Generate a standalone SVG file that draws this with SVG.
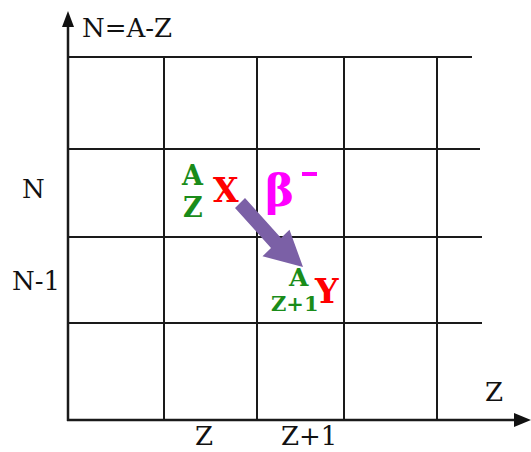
<svg xmlns="http://www.w3.org/2000/svg" width="531" height="452" viewBox="0 0 531 452">
<style>
.grid{stroke:#1a1a1a;stroke-width:2;fill:none}
.axis{stroke:#1a1a1a;stroke-width:2.5;fill:none}
.lbl{font-family:"DejaVu Serif","Liberation Serif",serif;font-size:26px;fill:#111}
.nuc{font-family:"DejaVu Serif","Liberation Serif",serif;font-weight:bold;fill:#1a8c1a}
.el{font-family:"DejaVu Serif","Liberation Serif",serif;font-weight:bold;fill:#ff0000}
</style>
<rect width="531" height="452" fill="#fff"/>
<g id="grid">
<line class="grid" x1="68" y1="57" x2="472" y2="57"/>
<line class="grid" x1="68" y1="149" x2="480" y2="149"/>
<line class="grid" x1="68" y1="237" x2="482" y2="237"/>
<line class="grid" x1="68" y1="323" x2="482" y2="323"/>
<line class="grid" x1="164" y1="57" x2="164" y2="420"/>
<line class="grid" x1="257" y1="57" x2="257" y2="420"/>
<line class="grid" x1="344" y1="57" x2="344" y2="420"/>
<line class="grid" x1="437" y1="57" x2="437" y2="420"/>
</g>
<g id="axes">
<line class="axis" x1="68" y1="421" x2="68" y2="24"/>
<polygon points="68,11 62,27 74,27" fill="#111"/>
<line class="axis" x1="67" y1="420" x2="518" y2="420"/>
<polygon points="531,420 514,413 514,427" fill="#111"/>
</g>
<g id="labels">
<text class="lbl" x="82" y="37">N=A-Z</text>
<text class="lbl" x="22" y="198">N</text>
<text class="lbl" x="12" y="290">N-1</text>
<text class="lbl" x="195" y="445">Z</text>
<text class="lbl" x="281" y="445">Z+1</text>
<text class="lbl" x="485" y="401">Z</text>
</g>
<g id="nuclideX">
<text class="nuc" x="182" y="185" font-size="27">A</text>
<text class="nuc" x="183" y="217" font-size="27">Z</text>
<text class="el" x="213" y="202" font-size="33">X</text>
</g>
<g id="beta">
<text x="265" y="206" font-family="DejaVu Serif, Liberation Serif, serif" font-weight="bold" font-size="44" fill="#ff00ff">β</text>
<rect x="302" y="172" width="15" height="4" fill="#ff00ff"/>
</g>
<g id="nuclideY">
<text class="nuc" x="289" y="286" font-size="25">A</text>
<text class="nuc" x="271" y="311" font-size="21">Z+1</text>
<text class="el" x="315" y="303" font-size="33">Y</text>
</g>
<g id="connectors">
<polygon points="245,198 281,238 289.5,229.7 303,267 262.5,256.3 271,248 235,208" fill="#7b60a6"/>
</g>
</svg>
